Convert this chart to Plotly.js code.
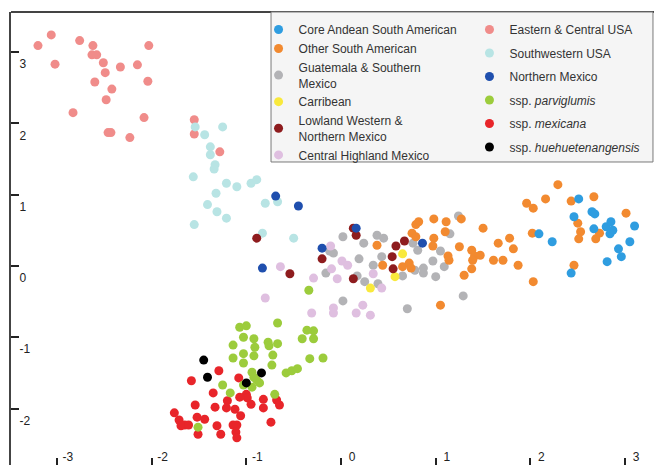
<!DOCTYPE html>
<html>
<head>
<meta charset="utf-8">
<script src="https://cdn.plot.ly/plotly-3.0.1.min.js"></script>
<style>html,body{margin:0;padding:0;background:#fff;}#chart{width:654px;height:465px;}</style>
</head>
<body>
<div id="chart"></div>
<script>
// ---- Data ----
var easternX = [-3.20,-3.06,-3.02,-2.76,-2.62,-2.63,-2.58,-2.51,-2.49,-2.60,-2.42,-2.48,-2.33,-2.15,-2.03,-2.04,-2.83,-2.08,-2.46,-2.43,-2.23,-1.55,-1.55,-1.28];
var easternY = [3.09,3.24,2.83,3.16,3.09,2.96,2.96,2.85,2.71,2.58,2.48,2.33,2.79,2.82,3.09,2.59,2.15,2.08,1.87,1.87,1.80,2.05,1.85,1.60];

var southwestX = [-1.54,-1.25,-1.44,-1.38,-1.38,-1.33,-1.34,-1.56,-1.21,-1.10,-0.95,-0.89,-1.32,-1.41,-1.31,-1.21,-0.80,-0.67,-1.55,-0.83,-0.50];
var southwestY = [1.95,1.95,1.84,1.67,1.56,1.42,1.36,1.25,1.16,1.11,1.16,1.21,1.02,0.86,0.76,0.67,0.88,0.90,0.58,0.46,0.39];

var mexicanaX = [-1.29,-1.58,-1.08,-1.35,-1.20,-1.00,-0.99,-0.95,-1.07,-0.82,-0.68,-0.65,-0.82,-1.54,-1.33,-1.21,-1.12,-1.06,-1.76,-1.71,-1.65,-1.69,-1.61,-1.52,-1.44,-1.31,-1.14,-1.10,-1.51,-1.27,-1.11,-1.10,-0.74];
var mexicanaY = [-1.47,-1.61,-1.57,-1.78,-1.89,-1.80,-1.85,-1.94,-1.84,-1.87,-1.88,-1.95,-1.99,-1.95,-1.98,-1.99,-2.01,-2.10,-2.06,-2.16,-2.23,-2.24,-2.23,-2.12,-2.15,-2.24,-2.23,-2.23,-2.36,-2.36,-2.33,-2.41,-2.19];

var parviglumisX = [-1.07,-1.00,-0.67,-1.03,-0.92,-0.77,-0.67,-1.14,-0.91,-0.76,-0.41,-0.29,-0.36,-0.29,-1.03,-0.92,-0.72,-1.14,-1.03,-0.73,-0.33,-0.19,-0.58,-0.52,-0.46,-0.94,-0.92,-0.89,-0.86,-1.25,-1.03,-0.94,-1.17,-0.70,-1.51,-0.34];
var parviglumisY = [-0.86,-0.84,-0.80,-1.00,-1.02,-1.07,-1.09,-1.11,-1.14,-1.12,-1.02,-0.91,-0.90,-1.02,-1.23,-1.26,-1.25,-1.29,-1.36,-1.39,-1.30,-1.29,-1.50,-1.47,-1.44,-1.49,-1.56,-1.60,-1.64,-1.67,-1.67,-1.70,-1.78,-1.80,-2.26,-0.34];

var huehueX = [-1.45,-1.41,-0.84,-1.00];
var huehueY = [-1.32,-1.56,-1.50,-1.64];

var guatemalaX = [0.02,0.24,0.38,0.45,0.76,0.81,1.05,1.24,1.15,0.97,-0.08,-0.12,0.19,0.43,0.34,0.78,0.87,0.87,0.65,0.39,0.25,0.17,-0.16,1.09,1.00,1.29,0.70,0.02];
var guatemalaY = [0.41,0.32,0.43,0.39,0.32,0.22,0.21,0.70,0.45,0.07,0.18,0.21,0.10,0.13,0.01,-0.06,-0.03,-0.10,-0.14,-0.25,-0.22,-0.14,-0.10,-0.01,-0.15,-0.42,-0.60,-0.49];

var highlandX = [-0.11,0.01,0.07,-0.64,-0.10,-0.29,-0.04,0.34,0.43,-0.80,-0.08,-0.08,-0.31,0.16,0.23,0.31];
var highlandY = [0.28,0.07,0.01,-0.01,-0.04,-0.17,-0.18,-0.11,-0.31,-0.45,-0.59,-0.66,-0.66,-0.66,-0.55,-0.69];

var otherSAX = [2.29,1.96,2.03,2.16,2.43,2.67,3.01,2.50,0.98,0.82,0.79,1.27,1.11,1.50,1.10,0.75,0.79,0.98,2.02,2.53,2.73,2.51,2.69,0.38,0.97,1.25,1.38,1.41,1.47,1.39,1.66,1.78,1.82,1.61,1.71,1.87,1.13,1.14,1.30,1.38,1.05,2.03,2.46,0.44,0.65,0.72,0.74];
var otherSAY = [1.14,0.88,0.81,0.94,0.91,0.97,0.74,0.60,0.66,0.62,0.58,0.66,0.62,0.53,0.48,0.46,0.41,0.39,0.46,0.48,0.46,0.38,0.38,0.29,0.28,0.27,0.22,0.14,0.15,0.08,0.32,0.39,0.24,0.08,0.08,0.01,0.14,0.08,-0.13,-0.04,-0.55,-0.22,0.01,0.01,-0.01,0.04,-0.03];

var coreAndeanX = [2.51,2.46,2.65,2.68,2.09,2.23,2.67,2.80,2.85,2.87,2.84,3.10,3.05,2.93,2.96,2.81,2.43];
var coreAndeanY = [0.94,0.69,0.76,0.73,0.45,0.34,0.52,0.55,0.62,0.50,0.45,0.56,0.34,0.24,0.13,0.06,-0.10];

var carribeanX = [0.65,0.57,0.31];
var carribeanY = [0.17,-0.15,-0.31];

var lowlandX = [-0.89,0.13,0.16,-0.20,-0.54,0.13,0.58,0.67,0.54,0.55];
var lowlandY = [0.39,0.53,0.43,0.10,-0.11,-0.18,0.28,0.35,0.13,-0.04];

var northernX = [-0.69,-0.45,0.16,-0.20,0.86,-0.83];
var northernY = [0.98,0.84,0.53,0.25,0.32,-0.03];

var xTickVals = [-3,-2,-1,0,1,2,3];
var xTickText = ["-3","-2","-1","0","1","2","3"];
var yTickVals = [-2,-1,0,1,2,3];
var yTickText = ["-2","-1","0","1","2","3"];

// ---- Series definitions (draw order) ----
var series = [
  {name:"Eastern & Central USA", x:easternX, y:easternY, color:"#f08c8a", legend:"legend2", rank:1},
  {name:"Southwestern USA", x:southwestX, y:southwestY, color:"#b8e4e4", legend:"legend2", rank:2},
  {name:"ssp. <i>mexicana</i>", x:mexicanaX, y:mexicanaY, color:"#e8252a", legend:"legend2", rank:5},
  {name:"ssp. <i>parviglumis</i>", x:parviglumisX, y:parviglumisY, color:"#9ccc3c", legend:"legend2", rank:4},
  {name:"ssp. <i>huehuetenangensis</i>", x:huehueX, y:huehueY, color:"#000000", legend:"legend2", rank:6},
  {name:"Guatemala & Southern<br>Mexico", x:guatemalaX, y:guatemalaY, color:"#b3b3b6", legend:"legend", rank:3},
  {name:"Central Highland Mexico", x:highlandX, y:highlandY, color:"#dfbfe0", legend:"legend", rank:6},
  {name:"Other South American", x:otherSAX, y:otherSAY, color:"#f28a30", legend:"legend", rank:2},
  {name:"Core Andean South American", x:coreAndeanX, y:coreAndeanY, color:"#2f9de0", legend:"legend", rank:1},
  {name:"Carribean", x:carribeanX, y:carribeanY, color:"#f9e93c", legend:"legend", rank:4},
  {name:"Lowland Western &<br>Northern Mexico", x:lowlandX, y:lowlandY, color:"#8e1c1e", legend:"legend", rank:5},
  {name:"Northern Mexico", x:northernX, y:northernY, color:"#1f4fae", legend:"legend2", rank:3}
];

var traces = series.map(function(s, i){
  return {
    type:"scatter", mode:"markers", name:s.name, x:s.x, y:s.y,
    legend:s.legend, legendrank:s.rank, legendgroup:"g"+i,
    marker:{color:s.color, size:9, line:{width:0}},
    hoverinfo:"name"
  };
});

var legendFont = {family:"Liberation Sans, Arial, Helvetica, sans-serif", size:12, color:"#333"};

var layout = {
  width:654, height:465,
  margin:{l:11, r:0, t:12, b:0},
  paper_bgcolor:"#ffffff", plot_bgcolor:"#ffffff",
  showlegend:true,
  font:{family:"Liberation Sans, Arial, Helvetica, sans-serif", color:"#222"},
  xaxis:{
    range:[-3.485, 3.305], showgrid:false, zeroline:false, showline:false,
    tickmode:"array", tickvals:xTickVals, ticktext:xTickText,
    ticks:"inside", ticklen:7, tickwidth:2, tickcolor:"#222",
    ticklabelposition:"inside", ticklabelshift:11, ticklabelstandoff:-6,
    tickfont:{size:12, color:"#222"}
  },
  yaxis:{
    range:[-2.791, 3.561], showgrid:false, zeroline:false,
    showline:true, linecolor:"#444", linewidth:2,
    tickmode:"array", tickvals:yTickVals, ticktext:yTickText,
    ticks:"inside", ticklen:8, tickwidth:2, tickcolor:"#222",
    ticklabelposition:"inside", ticklabelshift:12,
    tickfont:{size:12, color:"#222"}
  },
  shapes:[
    {type:"line", xref:"paper", yref:"paper", x0:0, x1:1, y0:1, y1:1, line:{color:"#444", width:2}},
    {type:"rect", xref:"paper", yref:"paper", x0:0.4044, x1:0.9984, y0:0.6689, y1:1.0,
     fillcolor:"#f5f5f5", line:{color:"#7a7a7a", width:1}, layer:"above"}
  ],
  legend:{
    x:0.385, y:0.9934, xanchor:"left", yanchor:"top",
    bgcolor:"rgba(0,0,0,0)", borderwidth:0,
    traceorder:"grouped", tracegroupgap:0, itemwidth:30,
    font:legendFont
  },
  legend2:{
    x:0.713, y:0.9934, xanchor:"left", yanchor:"top",
    bgcolor:"rgba(0,0,0,0)", borderwidth:0,
    traceorder:"grouped", tracegroupgap:4.5, itemwidth:30,
    font:legendFont
  }
};

Plotly.newPlot("chart", traces, layout, {displayModeBar:false, staticPlot:true});
</script>
</body>
</html>
